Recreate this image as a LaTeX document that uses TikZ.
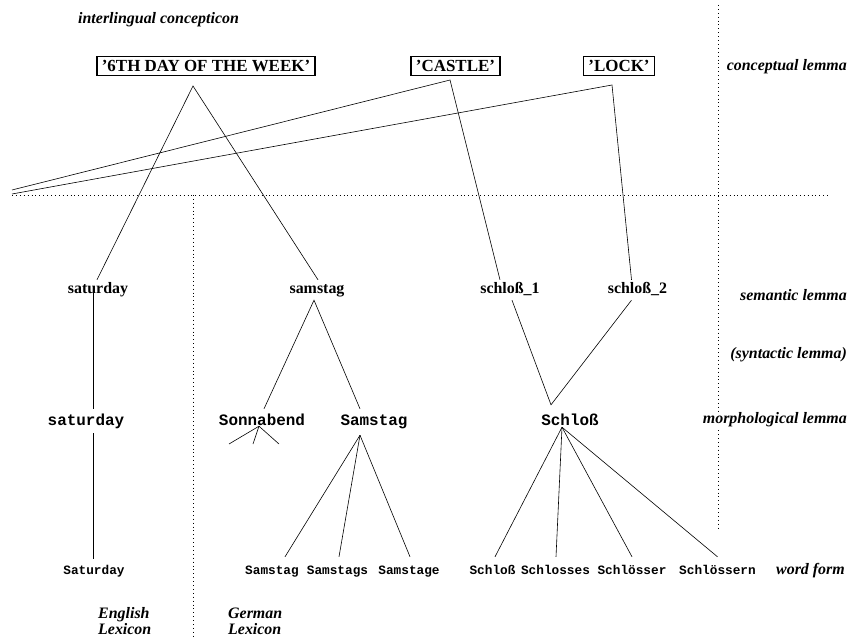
\documentclass[tikz,border=0pt]{standalone}
\usepackage{fontspec}
\setmainfont{Liberation Serif}
\setmonofont{Liberation Mono}
\usetikzlibrary{calc}
\tikzset{
  lnk/.style={line width=0.6bp},
  dotl/.style={line width=0.9bp, dash pattern=on 0.9bp off 3bp},
  concept/.style={draw, line width=1.3bp, font=\fontsize{17}{20}\selectfont\bfseries,
    inner xsep=5bp, inner ysep=0pt, minimum height=19bp, text height=12bp, text depth=0pt},
  sem/.style={font=\fontsize{16}{18}\selectfont\bfseries, inner xsep=0pt, inner ysep=2bp,
    text height=11bp, text depth=4bp},
  morph/.style={font=\fontsize{16}{18}\selectfont\ttfamily\bfseries, inner xsep=0pt,
    inner ysep=5bp, text height=11bp, text depth=3bp},
  wform/.style={font=\fontsize{12.8}{15}\selectfont\ttfamily\bfseries, inner xsep=0pt,
    inner ysep=8bp, text height=9bp, text depth=3bp},
  lvl/.style={font=\fontsize{16}{16}\selectfont\bfseries\itshape, inner sep=0pt},
}
\begin{document}
\begin{tikzpicture}[x=1bp,y=-1bp]
\useasboundingbox (0,0) rectangle (850,639);

% dotted separators
\coordinate (hL) at (12,195);
\coordinate (hR) at (828,195);
\coordinate (vmT) at (193,195);
\coordinate (vmB) at (193,639);
\coordinate (vrT) at (718,5);
\coordinate (vrB) at (718,528);
\draw[dotl] (hL) -- (hR);
\draw[dotl] (vmT) -- (vmB);
\draw[dotl] (vrT) -- (vrB);

% titles and level labels
\node[lvl, anchor=west] (title) at (78,20) {interlingual concepticon};
\node[lvl, anchor=east, fill=white, inner sep=1pt] (Lconc) at (848,67) {conceptual lemma};
\node[lvl, anchor=east, fill=white, inner sep=1pt] (Lsem) at (848,295) {semantic lemma};
\node[lvl, anchor=east, fill=white, inner sep=1pt] (Lsyn) at (848,355) {(syntactic lemma)};
\node[lvl, anchor=east, fill=white, inner sep=1pt] (Lmor) at (848,420) {morphological lemma};
\node[lvl, anchor=east, fill=white, inner sep=1pt] (Lwf) at (846,571) {word form};
\node[lvl, anchor=west, align=left] (Leng) at (98,621) {English\\Lexicon};
\node[lvl, anchor=west, align=left] (Lger) at (228,621) {German\\Lexicon};

% conceptual lemmas
\node[concept] (b6) at (206,66) {'6TH DAY OF THE WEEK'};
\node[concept] (bC) at (455.5,66) {'CASTLE'};
\node[concept] (bL) at (619,66) {'LOCK'};
\coordinate (a6) at (193,86);
\coordinate (aC) at (450,80);
\coordinate (aL) at (612,85);
\coordinate (fC) at (12,190);
\coordinate (fL) at (12,194);

% semantic lemmas
\node[sem] (sSat) at (98,289.5) {saturday};
\node[sem] (sSam) at (317,289.5) {samstag};
\node[sem] (sS1) at (510,289.5) {schloß\_1};
\node[sem] (sS2) at (637.5,289.5) {schloß\_2};

% morphological lemmas
\node[morph] (mSat) at (86,421) {saturday};
\node[morph] (mSon) at (262,421) {Sonnabend};
\node[morph] (mSam) at (374,421) {Samstag};
\node[morph] (mSch) at (570,421) {Schloß};

% word forms
\node[wform] (wSat) at (94,571) {Saturday};
\node[wform] (wSam1) at (272,571) {Samstag};
\node[wform] (wSam2) at (337.5,571) {Samstags};
\node[wform] (wSam3) at (409,571) {Samstage};
\node[wform] (wSch1) at (492.5,571) {Schloß};
\node[wform] (wSch2) at (555.5,571) {Schlosses};
\node[wform] (wSch3) at (632,571) {Schlösser};
\node[wform] (wSch4) at (717.5,571) {Schlössern};

% Sonnabend free branches
\coordinate (son1) at (229,444);
\coordinate (son2) at (253,444);
\coordinate (son3) at (279,444);

% concept links
\draw[lnk] ($(sSat.north)+(-1,0)$) -- (a6) -- ($(sSam.north)+(1,0)$);
\draw[lnk] (fC) -- (aC) -- ($(sS1.north)+(-10,0)$);
\draw[lnk] (fL) -- (aL) -- ($(sS2.north)+(-6,0)$);

% semantic to morphological
\draw[lnk] ($(sSat.south)+(-5,-6)$) -- ($(mSat.north)+(7,0)$);
\draw[lnk] ($(mSon.north)+(2,0)$) -- ($(sSam.south)+(-3,1)$) -- ($(mSam.north)+(-14,0)$);
\draw[lnk] ($(sS1.south)+(2,1)$) -- ($(mSch.north)+(-19,-4)$) -- ($(sS2.south)+(-6,1)$);

% morphological to word forms
\draw[lnk] ($(mSat.south)+(7,0)$) -- ($(wSat.north)+(-1,2)$);
\coordinate (apSon) at ($(mSon.south)+(-3,-7)$);
\draw[lnk] (son1) -- (apSon) -- (son3);
\draw[lnk] (apSon) -- (son2);
\coordinate (apSam) at ($(mSam.south)+(-14,2)$);
\draw[lnk] (apSam) -- ($(wSam1.north)+(13,0)$);
\draw[lnk] (apSam) -- ($(wSam2.north)+(1.5,0)$);
\draw[lnk] (apSam) -- ($(wSam3.north)+(1,0)$);
\coordinate (apSch) at ($(mSch.south)+(-8,-6)$);
\draw[lnk] (apSch) -- ($(wSch1.north)+(2.5,0)$);
\draw[lnk] (apSch) -- ($(wSch2.north)+(0.5,0)$);
\draw[lnk] (apSch) -- (wSch3.north);
\draw[lnk] (apSch) -- (wSch4.north);
\end{tikzpicture}
\end{document}
